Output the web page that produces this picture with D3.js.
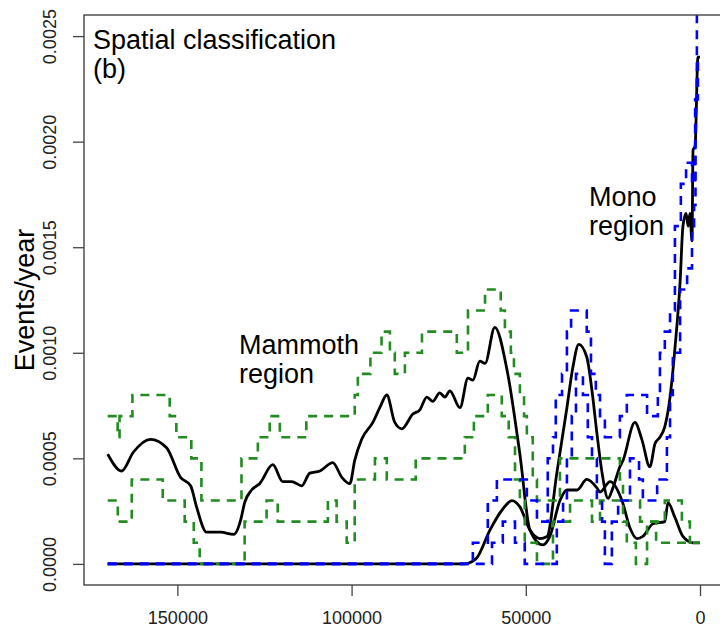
<!DOCTYPE html>
<html>
<head>
<meta charset="utf-8">
<script src="https://cdn.jsdelivr.net/npm/d3@7"></script>
<style>
  body { margin: 0; background: #fff; }
  svg { display: block; font-family: "Liberation Sans", Arial, sans-serif; }
</style>
</head>
<body>
<div id="chart"></div>
<script>
// smoothed event rates (years before present, events/year)
var mammothYear = [170000, 166000, 162600, 157700, 153100, 149100, 146200, 144500, 141600, 137600, 133800, 131800, 130700, 128700, 126400, 122600, 119800, 117200, 114300, 112000, 109100, 105400, 102800, 100500, 99100, 97100, 93900, 91900, 89900, 87600, 85600, 82400, 80400, 78400, 76700, 74700, 73200, 71800, 68900, 66600, 65200, 63200, 61700, 58900, 55400, 51700, 48800, 45100, 43100, 40200, 38200, 35300, 32500, 29600, 28700, 25800, 22400, 20100, 18100, 16400, 13500, 10100, 9200, 7200, 4900, 2000, 0];
var mammothRate = [0.00052, 0.00044, 0.00053, 0.00059, 0.00055, 0.00041, 0.00037, 0.00027, 0.00015, 0.00015, 0.00014, 0.00021, 0.00029, 0.00035, 0.00038, 0.00047, 0.00039, 0.00039, 0.00037, 0.00043, 0.00044, 0.00048, 0.00041, 0.00038, 0.00049, 0.00059, 0.00067, 0.00074, 0.00080, 0.00067, 0.00064, 0.00071, 0.00073, 0.00079, 0.00077, 0.00081, 0.00079, 0.00082, 0.00074, 0.00088, 0.00087, 0.00096, 0.00095, 0.00112, 0.00092, 0.00052, 0.00016, 0.00009, 0.00013, 0.00030, 0.00035, 0.00035, 0.00040, 0.00036, 0.00034, 0.00039, 0.00030, 0.00017, 0.00012, 0.00013, 0.00019, 0.00020, 0.00029, 0.00022, 0.00013, 0.00010, 0.00010];

var monoYear = [170000, 67500, 66600, 64000, 60300, 56600, 54000, 51700, 48800, 46000, 43900, 41100, 38200, 36500, 34800, 32500, 31000, 29600, 28100, 26400, 25000, 23000, 22100, 18700, 16700, 14400, 12900, 11500, 10100, 8600, 7200, 5700, 4900, 4000, 3400, 2900, 2300, 2000, 1400, 600, 0];
var monoRate = [0, 0, 0.000003, 0.00003, 0.00016, 0.00026, 0.00030, 0.00027, 0.00016, 0.00012, 0.00013, 0.00043, 0.00074, 0.00093, 0.00104, 0.00098, 0.00082, 0.00062, 0.00043, 0.00031, 0.00036, 0.00046, 0.00049, 0.00067, 0.00059, 0.00046, 0.00057, 0.00060, 0.00065, 0.00079, 0.00102, 0.00134, 0.00160, 0.00166, 0.00160, 0.00166, 0.00153, 0.00196, 0.00198, 0.00240, 0.00240];

// step bounds: value holds from each year toward the present
var mammothHiYear = [170000, 167150, 166600, 162900, 152200, 150300, 146000, 143100, 131600, 126900, 123500, 120600, 113000, 99100, 98200, 94600, 91400, 89000, 87600, 84700, 79800, 69800, 66600, 61700, 57200, 56000, 54300, 53400, 51700, 50500, 49700, 48000, 46800, 40200, 23000, 22100, 17200, 10100, 5200, 2900, 0];
var mammothHi = [0.0007, 0.0006, 0.0007, 0.0008, 0.0007, 0.0006, 0.0005, 0.0003, 0.0005, 0.0006, 0.0007, 0.0006, 0.0007, 0.0008, 0.0009, 0.0010, 0.0011, 0.0010, 0.0009, 0.0010, 0.0011, 0.0010, 0.0012, 0.0013, 0.0012, 0.0011, 0.0010, 0.0009, 0.0008, 0.0007, 0.0006, 0.0004, 0.0003, 0.0005, 0.0004, 0.0003, 0.0002, 0.0003, 0.0002, 0.0001, 0.0001];

var mammothLoYear = [170000, 167100, 163100, 154200, 147900, 145300, 143600, 130700, 124400, 121200, 106800, 104300, 101400, 99100, 93300, 89900, 81600, 67500, 64900, 60900, 56900, 54900, 53100, 51700, 50300, 46800, 42200, 37300, 31000, 28700, 22100, 21000, 18400, 15200, 12600, 0];
var mammothLo = [0.0003, 0.0002, 0.0004, 0.0003, 0.0002, 0.0001, 0, 0.0002, 0.0003, 0.0002, 0.0003, 0.0002, 0.0001, 0.0004, 0.0005, 0.0004, 0.0005, 0.0006, 0.0007, 0.0008, 0.0007, 0.0006, 0.0004, 0.0003, 0.0001, 0, 0.0002, 0.0003, 0.0002, 0.0003, 0.0002, 0.0001, 0, 0.0002, 0.0001, 0.0001];

var monoHiYear = [170000, 65200, 60900, 58300, 49700, 46800, 43700, 42200, 41400, 39600, 38200, 37000, 32500, 31300, 29900, 28700, 27300, 23000, 21000, 15200, 12100, 11500, 10100, 8600, 7200, 5500, 4000, 2300, 1400, 900, 0];
var monoHi = [0, 0.0001, 0.0003, 0.0004, 0.0003, 0.0002, 0.0005, 0.0006, 0.0008, 0.0009, 0.0011, 0.0012, 0.0011, 0.0009, 0.0008, 0.0007, 0.0006, 0.0007, 0.0008, 0.0007, 0.0008, 0.0010, 0.0011, 0.0012, 0.0016, 0.0018, 0.0019, 0.0018, 0.0022, 0.0026, 0.0026];

var monoLoYear = [170000, 59700, 56600, 53100, 50300, 41100, 39300, 38200, 36800, 35600, 33600, 32200, 31000, 29600, 28100, 27300, 25300, 23500, 20100, 17500, 16400, 12300, 9500, 8600, 7800, 5700, 3700, 2300, 1700, 1300, 600, 0];
var monoLo = [0, 0.0001, 0.0002, 0.0001, 0, 0.0002, 0.0003, 0.0005, 0.0007, 0.0009, 0.0008, 0.0006, 0.0005, 0.0003, 0.0002, 0, 0.0002, 0.0003, 0.0005, 0.0004, 0.0003, 0.0004, 0.0006, 0.0008, 0.0010, 0.0013, 0.0014, 0.0016, 0.0017, 0.0022, 0.0024, 0.0024];

var xTicks = [150000, 100000, 50000, 0];
var yTicks = [0, 0.0005, 0.0010, 0.0015, 0.0020, 0.0025];

var width = 720;
var height = 628;
var plotLeft = 84, plotRight = 723.7, plotTop = 15, plotBottom = 585;

var svg = d3.select("#chart")
  .append("svg")
  .attr("width", width)
  .attr("height", height);

// R-style padded ranges, time runs toward the present on the right
var x = d3.scaleLinear().domain([176800, -6800]).range([plotLeft, plotRight]);
var y = d3.scaleLinear().domain([-0.0001, 0.0026]).range([plotBottom, plotTop]);

svg.append("clipPath")
  .attr("id", "plotArea")
  .append("rect")
  .attr("x", plotLeft)
  .attr("y", plotTop)
  .attr("width", plotRight - plotLeft)
  .attr("height", plotBottom - plotTop);

var plot = svg.append("g").attr("clip-path", "url(#plotArea)");

function zip(xs, ys) {
  return xs.map(function(d, i) { return [d, ys[i]]; });
}

var smooth = d3.line()
  .x(function(d) { return x(d[0]); })
  .y(function(d) { return y(d[1]); })
  .curve(d3.curveMonotoneX);

var step = d3.line()
  .x(function(d) { return x(d[0]); })
  .y(function(d) { return y(d[1]); })
  .curve(d3.curveStepAfter);

// solid rate curves first, dashed bounds drawn on top
[zip(mammothYear, mammothRate), zip(monoYear, monoRate)].forEach(function(s) {
  plot.append("path")
    .attr("d", smooth(s))
    .attr("fill", "none")
    .attr("stroke", "#000")
    .attr("stroke-width", 2.8)
    .attr("stroke-linejoin", "round");
});

var bounds = [
  { data: zip(mammothHiYear, mammothHi), color: "#228B22" },
  { data: zip(mammothLoYear, mammothLo), color: "#228B22" },
  { data: zip(monoHiYear, monoHi), color: "#0000FF" },
  { data: zip(monoLoYear, monoLo), color: "#0000FF" }
];

bounds.forEach(function(b) {
  plot.append("path")
    .attr("d", step(b.data))
    .attr("fill", "none")
    .attr("stroke", b.color)
    .attr("stroke-width", 2.6)
    .attr("stroke-dasharray", "9,7");
});

// frame
svg.append("rect")
  .attr("x", plotLeft)
  .attr("y", plotTop)
  .attr("width", plotRight - plotLeft)
  .attr("height", plotBottom - plotTop)
  .attr("fill", "none")
  .attr("stroke", "#444")
  .attr("stroke-width", 1.4);

// x axis
var xAxis = svg.append("g")
  .attr("transform", "translate(0," + plotBottom + ")")
  .call(d3.axisBottom(x).tickValues(xTicks).tickSize(11).tickFormat(d3.format("d")));
xAxis.select(".domain").remove();
xAxis.selectAll("line").attr("stroke", "#444").attr("stroke-width", 1.3);
xAxis.selectAll("text")
  .attr("y", 39)
  .attr("dy", null)
  .attr("fill", "#222")
  .style("font-size", "18px")
  .style("font-family", "Liberation Sans, Arial, sans-serif");

// y axis with labels turned upright like base R
var yAxis = svg.append("g")
  .attr("transform", "translate(" + plotLeft + ",0)")
  .call(d3.axisLeft(y).tickValues(yTicks).tickSize(11).tickFormat(d3.format(".4f")));
yAxis.select(".domain").remove();
yAxis.selectAll("line").attr("stroke", "#444").attr("stroke-width", 1.3);
yAxis.selectAll("text")
  .attr("x", null)
  .attr("dy", null)
  .attr("text-anchor", "middle")
  .attr("transform", "translate(-28,0) rotate(-90)")
  .attr("fill", "#222")
  .style("font-size", "18px")
  .style("font-family", "Liberation Sans, Arial, sans-serif");

svg.append("text")
  .attr("transform", "translate(34," + (plotTop + plotBottom) / 2 + ") rotate(-90)")
  .attr("text-anchor", "middle")
  .style("font-size", "27px")
  .text("Events/year");

// annotations
function label(lines, px, py) {
  var t = svg.append("text")
    .attr("x", px)
    .attr("y", py)
    .style("font-size", "27px")
    .attr("fill", "#000");
  lines.forEach(function(line, i) {
    t.append("tspan").attr("x", px).attr("dy", i === 0 ? 0 : 29).text(line);
  });
}

label(["Spatial classification", "(b)"], 93, 49);
label(["Mammoth", "region"], 239, 354);
label(["Mono", "region"], 589, 206);
</script>
</body>
</html>
